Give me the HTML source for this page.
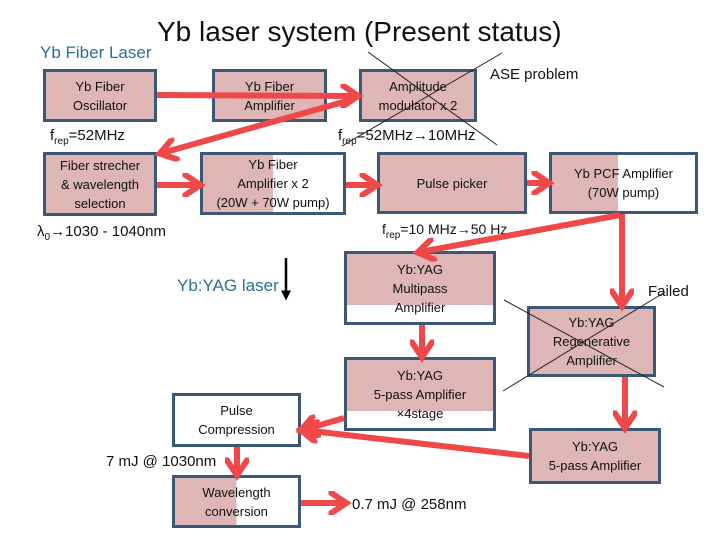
<!DOCTYPE html>
<html><head><meta charset="utf-8"><style>
body{margin:0;width:720px;height:540px;background:#fff;position:relative;overflow:hidden;font-family:"Liberation Sans",sans-serif;}
.b{position:absolute;border:3px solid #3d5877;box-sizing:border-box;display:flex;align-items:center;justify-content:center;text-align:center;font-size:13px;line-height:19px;color:#111;}
.t{position:absolute;white-space:nowrap;color:#111;}
sub{font-size:10px;}
</style></head><body>
<div class="b" style="left:43px;top:69px;width:114px;height:53px;background:#deb6b6">Yb Fiber<br>Oscillator</div>
<div class="b" style="left:212px;top:69px;width:115px;height:53px;background:#deb6b6">Yb Fiber<br>Amplifier</div>
<div class="b" style="left:359px;top:69px;width:118px;height:53px;background:#deb6b6">Amplitude<br>modulator x 2</div>
<div class="b" style="left:43px;top:152px;width:114px;height:64px;background:#deb6b6">Fiber strecher<br>&amp; wavelength<br>selection</div>
<div class="b" style="left:200px;top:152px;width:146px;height:63px;background:linear-gradient(90deg,#deb6b6 50%,#fff 50%)">Yb Fiber<br>Amplifier x 2<br>(20W + 70W pump)</div>
<div class="b" style="left:377px;top:152px;width:150px;height:62px;background:#deb6b6">Pulse picker</div>
<div class="b" style="left:549px;top:152px;width:149px;height:62px;background:linear-gradient(90deg,#deb6b6 46%,#fff 46%)">Yb PCF Amplifier<br>(70W pump)</div>
<div class="b" style="left:344px;top:251px;width:152px;height:74px;background:linear-gradient(180deg,#deb6b6 75%,#fff 75%)">Yb:YAG<br>Multipass<br>Amplifier</div>
<div class="b" style="left:344px;top:357px;width:152px;height:74px;background:linear-gradient(180deg,#deb6b6 75%,#fff 75%)">Yb:YAG<br>5-pass Amplifier<br>×4stage</div>
<div class="b" style="left:172px;top:393px;width:129px;height:54px;background:#fff">Pulse<br>Compression</div>
<div class="b" style="left:172px;top:475px;width:129px;height:53px;background:linear-gradient(90deg,#deb6b6 50%,#fff 50%)">Wavelength<br>conversion</div>
<div class="b" style="left:527px;top:306px;width:129px;height:71px;background:#deb6b6">Yb:YAG<br>Regenerative<br>Amplifier</div>
<div class="b" style="left:529px;top:428px;width:132px;height:56px;background:#deb6b6">Yb:YAG<br>5-pass Amplifier</div>

<div class="t" style="left:157px;top:16px;font-size:28px;">Yb laser system (Present status)</div>
<div class="t" style="left:40px;top:43px;font-size:17px;color:#2a6f97">Yb Fiber Laser</div>
<div class="t" style="left:177px;top:276px;font-size:17px;color:#2a6f97">Yb:YAG laser</div>
<div class="t" style="left:490px;top:66px;font-size:15px;">ASE problem</div>
<div class="t" style="left:648px;top:283px;font-size:15px;">Failed</div>
<div class="t" style="left:50px;top:127px;font-size:15px;">f<sub>rep</sub>=52MHz</div>
<div class="t" style="left:338px;top:127px;font-size:15px;">f<sub>rep</sub>=52MHz→10MHz</div>
<div class="t" style="left:382px;top:221px;font-size:14px;">f<sub>rep</sub>=10 MHz→50 Hz</div>
<div class="t" style="left:37px;top:223px;font-size:15px;">λ<sub>0</sub>→1030 - 1040nm</div>
<div class="t" style="left:106px;top:453px;font-size:15px;">7 mJ @ 1030nm</div>
<div class="t" style="left:352px;top:496px;font-size:15px;">0.7 mJ @ 258nm</div>

<svg width="720" height="540" style="position:absolute;left:0;top:0">
<defs><marker id="a" markerWidth="4" markerHeight="4" refX="2.6" refY="2" orient="auto" markerUnits="strokeWidth"><path d="M0,0 L3,2 L0,4" fill="none" stroke="#ef4848" stroke-width="1"/></marker>
<marker id="k" markerWidth="4" markerHeight="4" refX="3" refY="2" orient="auto" markerUnits="strokeWidth"><path d="M0,0 L4,2 L0,4Z" fill="#000"/></marker></defs>
<g stroke="#ef4848" stroke-width="6" fill="none" marker-end="url(#a)">
<line x1="157" y1="95" x2="356" y2="96"/>
<line x1="354" y1="99" x2="162" y2="153"/>
<line x1="157" y1="185" x2="198" y2="185"/>
<line x1="346" y1="185" x2="375" y2="185"/>
<line x1="527" y1="183" x2="547" y2="183"/>
<line x1="620" y1="215" x2="420" y2="252"/>
<line x1="622" y1="214" x2="622" y2="304"/>
<line x1="422" y1="325" x2="422" y2="355"/>
<line x1="344" y1="418" x2="303" y2="430"/>
<line x1="529" y1="456" x2="303" y2="430"/>
<line x1="625" y1="377" x2="625" y2="426"/>
<line x1="237" y1="447" x2="237" y2="473"/>
<line x1="301" y1="503" x2="344" y2="503"/>
</g>
<line x1="286" y1="258" x2="286" y2="298" stroke="#000" stroke-width="2.5" marker-end="url(#k)"/>
<g stroke="#222" stroke-width="1">
<line x1="368" y1="52" x2="497" y2="145"/>
<line x1="502" y1="53" x2="342" y2="146"/>
<line x1="504" y1="300" x2="664" y2="387"/>
<line x1="503" y1="391" x2="665" y2="292"/>
</g>
</svg>
</body></html>
